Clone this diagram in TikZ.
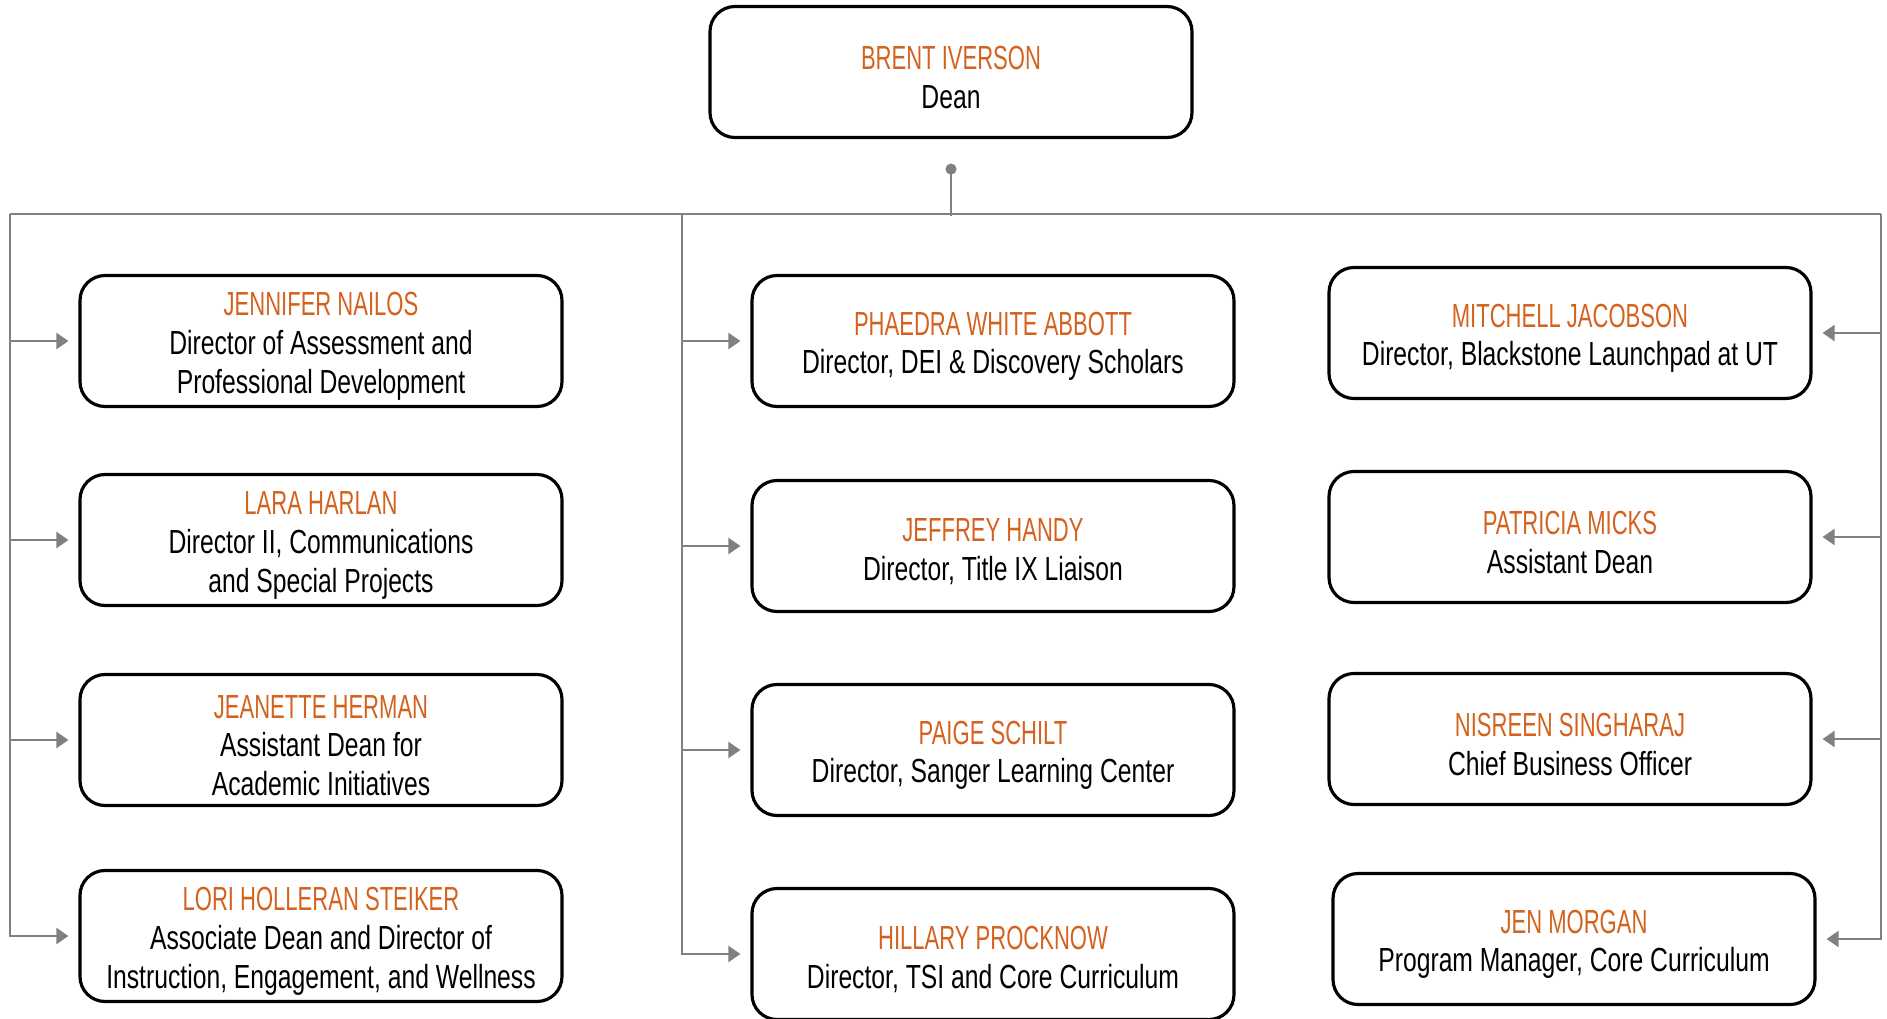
\documentclass[tikz,border=0pt]{standalone}
\usepackage{fontspec}
\setmainfont{Liberation Sans}[FakeStretch=0.74]
\newfontfamily\namefont{Liberation Sans}[FakeStretch=0.66]
\usepackage{xcolor}
\usetikzlibrary{arrows.meta}
\definecolor{utorange}{RGB}{212,98,30}
\definecolor{linegray}{RGB}{128,128,130}
% name line in orange, with a little extra room above it
\newcommand{\who}[1]{{\namefont\textcolor{utorange}{\rule{0pt}{9.7pt}#1}}}
\tikzset{
  person/.style={ % rounded box of one staff member
    draw, line width=0.9pt, rounded corners=0.25cm,
    minimum width=4.82cm, minimum height=1.31cm,
    inner ysep=0pt, align=center, text=black,
    font=\fontsize{9.5}{11}\selectfont
  },
  conn/.style={ % plain grey wire
    draw=linegray, line width=0.6pt
  },
  feed/.style={ % grey wire ending in an arrow
    conn, -{Triangle[length=0.12cm,width=0.16cm]}, shorten >=0.1cm
  }
}
\begin{document}
\begin{tikzpicture}
  \useasboundingbox (0,0) rectangle (18.87,-10.19);

  \node[person] (dean) at (9.51,-0.72) {\who{BRENT IVERSON}\\Dean};

  % left column
  \node[person] (nailos)  at (3.21,-3.41) {\who{JENNIFER NAILOS}\\Director of Assessment and\\Professional Development};
  \node[person] (harlan)  at (3.21,-5.40) {\who{LARA HARLAN}\\Director II, Communications\\and Special Projects};
  \node[person] (herman)  at (3.21,-7.40) {\who{JEANETTE HERMAN}\\Assistant Dean for\\Academic Initiatives};
  \node[person] (steiker) at (3.21,-9.36) {\who{LORI HOLLERAN STEIKER}\\Associate Dean and Director of\\Instruction, Engagement, and Wellness};

  % middle column
  \node[person] (abbott)   at (9.93,-3.41) {\who{PHAEDRA WHITE ABBOTT}\\Director, DEI \& Discovery Scholars};
  \node[person] (handy)    at (9.93,-5.46) {\who{JEFFREY HANDY}\\Director, Title IX Liaison};
  \node[person] (schilt)   at (9.93,-7.50) {\who{PAIGE SCHILT}\\Director, Sanger Learning Center};
  \node[person] (procknow) at (9.93,-9.54) {\who{HILLARY PROCKNOW}\\Director, TSI and Core Curriculum};

  % right column
  \node[person] (jacobson)  at (15.70,-3.33) {\who{MITCHELL JACOBSON}\\Director, Blackstone Launchpad at UT};
  \node[person] (micks)     at (15.70,-5.37) {\who{PATRICIA MICKS}\\Assistant Dean};
  \node[person] (singharaj) at (15.70,-7.39) {\who{NISREEN SINGHARAJ}\\Chief Business Officer};
  \node[person] (morgan)    at (15.74,-9.39) {\who{JEN MORGAN}\\Program Manager, Core Curriculum};

  % bus under the dean
  \coordinate (hub)  at ([yshift=-0.765cm]dean.south);
  \coordinate (lbus) at (0.10,-2.14);
  \coordinate (mbus) at (6.82,-2.14);
  \coordinate (rbus) at (18.81,-2.14);
  \draw[conn, {Circle[length=0.11cm]}-] ([yshift=-0.245cm]dean.south) -- (hub);
  \draw[conn] (lbus) -- (rbus);

  \draw[feed] (lbus) |- (nailos.west);
  \draw[feed] (lbus) |- (harlan.west);
  \draw[feed] (lbus) |- (herman.west);
  \draw[feed] (lbus) |- (steiker.west);

  \draw[feed] (mbus) |- (abbott.west);
  \draw[feed] (mbus) |- (handy.west);
  \draw[feed] (mbus) |- (schilt.west);
  \draw[feed] (mbus) |- (procknow.west);

  \draw[feed] (rbus) |- (jacobson.east);
  \draw[feed] (rbus) |- (micks.east);
  \draw[feed] (rbus) |- (singharaj.east);
  \draw[feed] (rbus) |- (morgan.east);
\end{tikzpicture}
\end{document}
